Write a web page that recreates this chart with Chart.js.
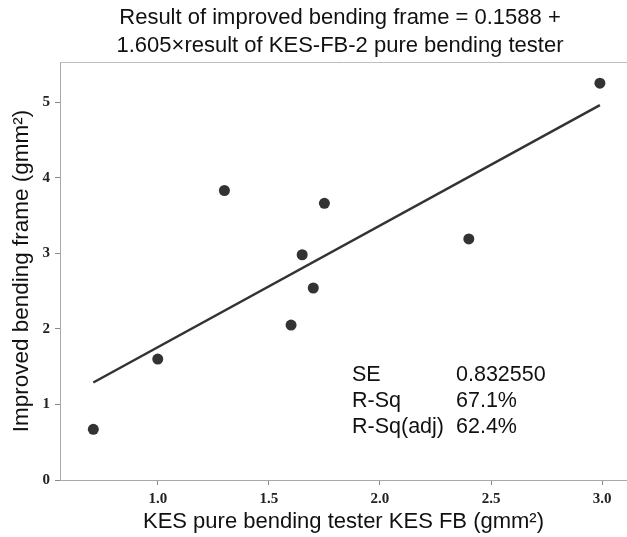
<!DOCTYPE html>
<html>
<head>
<meta charset="utf-8">
<script src="https://cdn.jsdelivr.net/npm/chart.js@4.4.0/dist/chart.umd.min.js"></script>
<style>
    html, body { margin: 0; padding: 0; background: #fff; }
    canvas { display: block; }
</style>
</head>
<body>
<canvas id="chart" width="627" height="537"></canvas>
<script>
// measured points: KES FB vs improved bending frame
const kesFB = [0.71, 1.00, 1.30, 1.60, 1.65, 1.70, 1.75, 2.40, 2.99];
const improvedFrame = [0.67, 1.60, 3.83, 2.05, 2.98, 2.54, 3.66, 3.19, 5.25];

// fitted line end points
const fitX = [0.71, 2.99];
const fitY = [1.29, 4.96];

const xTicks = [1.0, 1.5, 2.0, 2.5, 3.0];
const yTicks = [0, 1, 2, 3, 4, 5];

const titleLines = [
    'Result of improved bending frame = 0.1588 +',
    '1.605\u00d7result of KES-FB-2 pure bending tester'
];
const statLabels = ['SE', 'R-Sq', 'R-Sq(adj)'];
const statValues = ['0.832550', '67.1%', '62.4%'];

document.addEventListener('DOMContentLoaded', function() {
    const ctx = document.getElementById('chart').getContext('2d');

    // title, stats box and the top frame line
    const extras = {
        id: 'extras',
        afterDraw(chart) {
            const c = chart.ctx;
            const area = chart.chartArea;
            c.save();
            c.strokeStyle = '#bdbdbd';
            c.lineWidth = 1;
            c.beginPath();
            c.moveTo(area.left, area.top + 0.5);
            c.lineTo(area.right, area.top + 0.5);
            c.stroke();

            c.fillStyle = '#111';
            c.textBaseline = 'middle';
            c.textAlign = 'center';
            c.font = '22px "Liberation Sans", Arial, sans-serif';
            titleLines.forEach((t, i) => c.fillText(t, 340, 18 + i * 28));

            c.textAlign = 'left';
            c.font = '21.5px "Liberation Sans", Arial, sans-serif';
            statLabels.forEach((t, i) => {
                c.fillText(t, 352, 375 + i * 26);
                c.fillText(statValues[i], 456, 375 + i * 26);
            });
            c.restore();
        }
    };

    const tickFont = { family: '"Liberation Serif", "Times New Roman", serif', size: 15, weight: 'bold' };

    new Chart(ctx, {
        type: 'scatter',
        data: {
            datasets: [{
                data: kesFB.map((x, i) => ({ x: x, y: improvedFrame[i] })),
                backgroundColor: '#333',
                borderWidth: 0,
                pointRadius: 5.5
            }, {
                data: fitX.map((x, i) => ({ x: x, y: fitY[i] })),
                showLine: true,
                borderColor: '#333',
                borderWidth: 2.5,
                pointRadius: 0
            }]
        },
        options: {
            responsive: false,
            animation: false,
            layout: { autoPadding: false, padding: { top: 62, right: 0, left: 0, bottom: 0 } },
            plugins: {
                legend: { display: false },
                tooltip: { enabled: false },
                title: { display: false }
            },
            scales: {
                x: {
                    type: 'linear',
                    min: 0.56,
                    max: 3.112,
                    afterBuildTicks: s => { s.ticks = xTicks.map(v => ({ value: v })); },
                    afterFit: s => { s.height = 57; s.paddingLeft = 0; s.paddingRight = 0; },
                    grid: { drawOnChartArea: false, drawTicks: true, tickLength: 5, color: '#888' },
                    border: { color: '#aaa' },
                    ticks: { font: tickFont, color: '#222', padding: 5, maxRotation: 0, callback: v => v.toFixed(1) },
                    title: {
                        display: true,
                        text: 'KES pure bending tester KES FB (gmm\u00b2)',
                        font: { family: '"Liberation Sans", Arial, sans-serif', size: 22 },
                        color: '#111',
                        padding: { top: 0, bottom: 2 }
                    }
                },
                y: {
                    min: 0,
                    max: 5.53,
                    afterBuildTicks: s => { s.ticks = yTicks.map(v => ({ value: v })); },
                    afterFit: s => { s.width = 60; },
                    grid: { drawOnChartArea: false, drawTicks: true, tickLength: 5, color: '#888' },
                    border: { color: '#aaa' },
                    ticks: { font: tickFont, color: '#222', padding: 5, callback: v => String(v) },
                    title: {
                        display: true,
                        text: 'Improved bending frame (gmm\u00b2)',
                        font: { family: '"Liberation Sans", Arial, sans-serif', size: 22.5 },
                        color: '#111',
                        padding: { top: 8, bottom: 0 }
                    }
                }
            }
        },
        plugins: [extras]
    });
});
</script>
</body>
</html>
